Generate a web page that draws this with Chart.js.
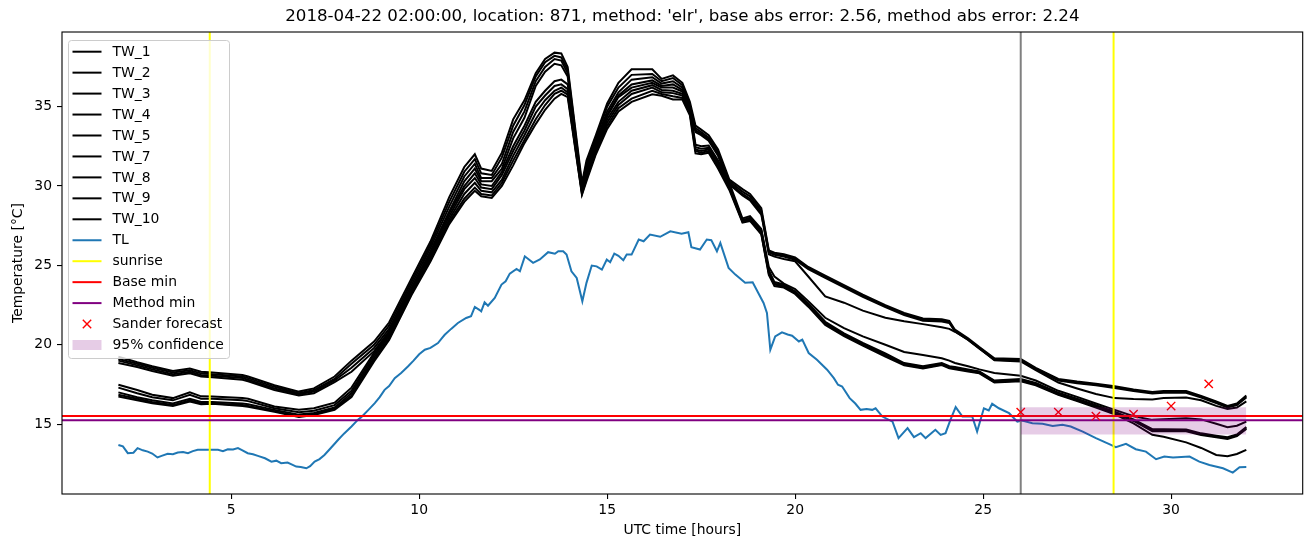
<!DOCTYPE html>
<html>
<head>
<meta charset="utf-8">
<script src="https://cdn.jsdelivr.net/npm/chart.js@4/dist/chart.umd.min.js"></script>
<style>
  body { margin: 0; background: #fff; }
  #wrap { width: 1310px; height: 547px; }
</style>
</head>
<body>
<div id="wrap"><canvas id="tempChart" width="1310" height="547"></canvas></div>
<script>
// Water temperature sensors (TW), air temperature (TL) and forecast markers
const hours = [2, 2.5, 2.9, 3.45, 3.9, 4.2, 4.5, 5.3, 5.45, 6.15, 6.8, 7.2, 7.75, 8.2, 8.8, 9.2, 9.8, 10.3, 10.8, 11.2,
  11.48, 11.65, 11.93, 12.2, 12.5, 12.8, 13.1, 13.35, 13.6, 13.78, 13.95, 14.33, 14.45, 14.7, 15.0, 15.3, 15.65, 16.2, 16.45, 16.75,
  17.0, 17.2, 17.35, 17.5, 17.7, 17.95, 18.25, 18.6, 18.8, 19.1, 19.3, 19.45, 19.7, 20.0, 20.35, 20.8, 21.3, 21.8, 22.4, 22.9,
  23.4, 23.9, 24.1, 24.25, 24.6, 24.9, 25.3, 26.0, 26.4, 27.0, 27.5, 28.0, 28.5, 29.0, 29.5, 29.8, 30.4, 30.8, 31.2, 31.5,
  31.75, 32.0];

const tw1 = [19.25, 18.9, 18.65, 18.35, 18.5, 18.3, 18.25, 18.1, 18.0, 17.45, 17.05, 17.25, 18.0, 19.0,
  20.2, 21.4, 24.2, 26.5, 29.3, 31.2,
  32.0, 31.1, 30.95, 32.1, 34.2, 35.4, 37.1, 38.0, 38.4, 38.35, 37.5,
  30.2, 31.6, 33.2, 35.2, 36.5, 37.35, 37.35, 36.75, 36.97, 36.5,
  35.3, 33.8, 33.55, 33.2, 32.3, 30.4, 29.8, 29.5, 28.6,
  25.95, 25.8, 25.7, 25.5, 24.9, 24.35, 23.75, 23.15,
  22.5, 22.0, 21.65, 21.6, 21.5, 20.95, 20.4, 19.85, 19.15,
  19.1, 18.55, 17.85, 17.68, 17.55, 17.38, 17.18,
  17.02, 17.08, 17.08, 16.78, 16.43, 16.15, 16.3, 16.8];
const tw2 = [19.1, 18.8, 18.55, 18.25, 18.4, 18.2, 18.15, 18.0, 17.9, 17.35, 16.95, 17.15, 17.85, 18.8,
  20.0, 21.2, 24.0, 26.3, 29.0, 30.9,
  31.7, 30.8, 30.7, 31.8, 33.8, 35.1, 36.9, 37.8, 38.2, 38.1, 37.3,
  30.0, 31.4, 33.0, 35.0, 36.2, 37.0, 37.05, 36.6, 36.8, 36.35,
  35.1, 33.65, 33.4, 33.05, 32.15, 30.3, 29.65, 29.35, 28.45,
  25.88, 25.72, 25.62, 25.42, 24.82, 24.28, 23.68, 23.08,
  22.43, 21.93, 21.58, 21.53, 21.43, 20.9, 20.35, 19.8, 19.1,
  19.05, 18.5, 17.8, 17.63, 17.5, 17.33, 17.13,
  16.97, 17.03, 17.03, 16.73, 16.38, 16.1, 16.25, 16.74];
const tw3 = [19.0, 18.7, 18.45, 18.15, 18.3, 18.1, 18.05, 17.9, 17.8, 17.25, 16.88, 17.05, 17.75, 18.55,
  19.8, 21.0, 23.8, 26.1, 28.7, 30.6,
  31.4, 30.5, 30.5, 31.4, 33.4, 34.7, 36.6, 37.5, 38.0, 37.9, 37.1,
  29.8, 31.2, 32.8, 34.7, 35.9, 36.7, 36.85, 36.45, 36.6, 36.2,
  35.0, 33.5, 33.3, 32.95, 32.0, 30.2, 29.5, 29.2, 28.3,
  25.7, 25.55, 25.4, 25.26, 24.3, 23.05, 22.65, 22.15,
  21.7, 21.48, 21.3, 21.1, 21.0, 20.82, 20.32, 19.78, 19.02,
  18.95, 18.4, 17.62, 17.25, 16.9, 16.64, 16.58,
  16.55, 16.64, 16.68, 16.5, 16.15, 15.95, 16.05, 16.43];
const tw4 = [18.85, 18.6, 18.35, 18.05, 18.2, 18.0, 17.95, 17.8, 17.7, 17.15, 16.8, 16.95, 17.65, 18.3,
  19.6, 20.85, 23.6, 25.9, 28.4, 30.3,
  31.1, 30.3, 30.3, 31.1, 33.0, 34.3, 36.3, 37.2, 37.7, 37.6, 36.9,
  29.7, 31.0, 32.6, 34.5, 35.7, 36.4, 36.65, 36.3, 36.4, 36.05,
  34.9, 33.4, 33.2, 32.85, 31.9, 30.1, 29.4, 29.1, 28.2,
  25.82, 25.66, 25.56, 25.36, 24.76, 24.22, 23.62, 23.02,
  22.37, 21.87, 21.52, 21.47, 21.37, 20.85, 20.3, 19.75, 19.06,
  19.0, 18.45, 17.75, 17.58, 17.45, 17.28, 17.08,
  16.93, 16.98, 16.98, 16.68, 16.33, 16.05, 16.2, 16.68];
const tw5 = [17.48, 17.15, 16.85, 16.64, 17.0, 16.75, 16.74, 16.64, 16.6, 16.11, 15.9, 16.0, 16.35, 17.3,
  19.5, 20.75, 23.55, 25.8, 28.3, 30.0,
  30.8, 30.1, 30.0, 30.9, 32.5, 33.8, 35.3, 36.0, 36.6, 36.7, 36.4,
  29.9, 30.9, 32.6, 34.4, 35.6, 36.2, 36.5, 36.2, 36.2, 35.95,
  34.9, 32.6, 32.5, 32.55, 31.6, 30.2, 27.95, 28.1, 27.3,
  24.9, 24.3, 23.85, 23.5, 22.75, 21.7, 21.05, 20.53,
  20.0, 19.55, 19.35, 19.15, 19.0, 18.85, 18.65, 18.45, 18.22,
  18.05, 17.75, 17.1, 16.72, 16.3, 15.9, 15.5,
  15.27, 15.31, 15.37, 15.3, 15.02, 14.8, 14.9, 15.16];
const tw7 = [17.3, 16.95, 16.7, 16.5, 16.85, 16.6, 16.6, 16.5, 16.45, 16.0, 15.75, 15.85, 16.2, 17.1,
  19.35, 20.65, 23.45, 25.7, 28.1, 29.8,
  30.5, 29.9, 29.8, 30.7, 32.2, 33.5, 35.0, 35.7, 36.3, 36.4, 36.1,
  29.7, 30.8, 32.4, 34.2, 35.3, 36.0, 36.35, 36.05, 36.0, 35.8,
  34.8, 32.45, 32.35, 32.4, 31.45, 30.05, 27.85, 28.0, 27.2,
  24.7, 23.95, 23.8, 23.35, 22.6, 21.45, 20.72, 20.12,
  19.45, 18.85, 18.65, 18.85, 18.65, 18.6, 18.45, 18.32, 17.75,
  17.85, 17.6, 16.98, 16.6, 16.2, 15.78, 15.3,
  14.68, 14.68, 14.66, 14.42, 14.27, 14.17, 14.35, 14.82];
const tw8 = [17.0, 16.7, 16.5, 16.3, 16.6, 16.4, 16.4, 16.3, 16.25, 15.9, 15.6, 15.7, 16.05, 16.95,
  19.2, 20.55, 23.35, 25.55, 27.9, 29.5,
  30.2, 29.7, 29.6, 30.4, 31.9, 33.2, 34.6, 35.4, 36.0, 36.2, 35.9,
  29.6, 30.6, 32.3, 34.0, 35.1, 35.8, 36.2, 35.9, 35.85, 35.7,
  34.7, 32.3, 32.2, 32.3, 31.3, 29.95, 27.8, 27.9, 27.1,
  24.6, 23.85, 23.72, 23.3, 22.52, 21.38, 20.65, 20.06,
  19.38, 18.8, 18.6, 18.8, 18.6, 18.55, 18.4, 18.28, 17.7,
  17.8, 17.55, 16.93, 16.55, 16.15, 15.73, 15.25,
  14.62, 14.62, 14.6, 14.37, 14.22, 14.12, 14.3, 14.75];
const tw9 = [16.85, 16.6, 16.4, 16.2, 16.5, 16.3, 16.3, 16.2, 16.15, 15.82, 15.5, 15.62, 15.98, 16.8,
  19.05, 20.4, 23.25, 25.4, 27.75, 29.2,
  29.9, 29.5, 29.4, 30.2, 31.6, 32.9, 34.2, 35.1, 35.8, 36.0, 35.75,
  29.5, 30.45, 32.1, 33.8, 34.9, 35.5, 36.0, 35.8, 35.65, 35.55,
  34.6, 32.2, 32.1, 32.2, 31.2, 29.85, 27.75, 27.85, 27.0,
  24.5, 23.8, 23.66, 23.25, 22.46, 21.32, 20.6, 20.0,
  19.32, 18.75, 18.55, 18.76, 18.56, 18.5, 18.36, 18.24, 17.66,
  17.75, 17.5, 16.88, 16.5, 16.1, 15.68, 15.2,
  14.56, 14.57, 14.55, 14.32, 14.17, 14.07, 14.25, 14.7];
const tw10 = [16.74, 16.5, 16.32, 16.15, 16.43, 16.25, 16.28, 16.15, 16.1, 15.78, 15.45, 15.58, 15.9, 16.7,
  18.95, 20.3, 23.15, 25.25, 27.6, 29.0,
  29.7, 29.35, 29.25, 30.0, 31.3, 32.7, 33.9, 34.8, 35.5, 35.8, 35.6,
  29.45, 30.3, 32.0, 33.6, 34.7, 35.3, 35.78, 35.68, 35.45, 35.45,
  34.45, 32.05, 32.0, 32.1, 31.1, 29.75, 27.7, 27.8, 26.95,
  24.4, 23.7, 23.6, 23.2, 22.4, 21.25, 20.55, 19.95,
  19.26, 18.7, 18.5, 18.72, 18.52, 18.46, 18.32, 18.2, 17.62,
  17.7, 17.45, 16.85, 16.46, 16.05, 15.62, 15.05,
  14.33, 14.2, 13.85, 13.5, 13.06, 12.98, 13.12, 13.38];

const tlHours = [2.0, 2.12, 2.25, 2.4, 2.51, 2.65, 2.78, 2.9, 3.04, 3.15, 3.31, 3.45, 3.58, 3.72, 3.85, 3.98, 4.11, 4.38, 4.65, 4.78,
  4.91, 5.05, 5.18, 5.3, 5.44, 5.58, 5.71, 5.9, 6.07, 6.2, 6.33, 6.5, 6.62, 6.73, 6.85, 7.0, 7.1, 7.22, 7.35, 7.48,
  7.65, 7.84, 8.0, 8.2, 8.38, 8.46, 8.65, 8.82, 8.95, 9.08, 9.2, 9.35, 9.52, 9.7, 9.85, 10.0, 10.15, 10.3, 10.5, 10.6,
  10.68, 10.85, 11.03, 11.25, 11.38, 11.48, 11.6, 11.65, 11.74, 11.83, 12.01, 12.19, 12.3, 12.41, 12.59, 12.68, 12.81, 13.03, 13.21, 13.43,
  13.61, 13.7, 13.83, 13.92, 14.05, 14.19, 14.34, 14.45, 14.59, 14.72, 14.86, 14.99, 15.08, 15.19, 15.3, 15.43, 15.52, 15.65, 15.84, 15.97,
  16.14, 16.41, 16.68, 16.98, 17.16, 17.24, 17.47, 17.65, 17.77, 17.92, 18.01, 18.23, 18.41, 18.67, 18.87, 19.16, 19.25, 19.34, 19.47, 19.65,
  19.8, 19.92, 20.1, 20.19, 20.36, 20.58, 20.85, 21.03, 21.14, 21.25, 21.45, 21.6, 21.74, 21.9, 22.05, 22.14, 22.32, 22.59, 22.75, 22.99,
  23.16, 23.34, 23.47, 23.73, 23.87, 24.0, 24.13, 24.27, 24.45, 24.71, 24.84, 25.02, 25.15, 25.24, 25.42, 25.69, 25.91, 26.04, 26.31, 26.58,
  26.85, 27.11, 27.33, 27.65, 28.0, 28.4, 28.53, 28.8, 29.06, 29.33, 29.6, 29.82, 30.05, 30.49, 30.75, 31.02, 31.38, 31.64, 31.82, 32.0];
const tlTemps = [13.69, 13.6, 13.17, 13.2, 13.49, 13.35, 13.27, 13.15, 12.9, 13.0, 13.13, 13.1, 13.21, 13.25, 13.17, 13.3, 13.38, 13.38, 13.38, 13.3,
  13.42, 13.4, 13.49, 13.35, 13.17, 13.1, 13.0, 12.85, 12.64, 12.7, 12.54, 12.58, 12.45, 12.33, 12.3, 12.22, 12.35, 12.64, 12.8, 13.06,
  13.5, 14.0, 14.4, 14.85, 15.3, 15.44, 15.9, 16.32, 16.7, 17.16, 17.4, 17.9, 18.22, 18.63, 19.0, 19.4, 19.69, 19.8, 20.11, 20.4,
  20.63, 21.0, 21.37, 21.69, 21.8, 22.38, 22.2, 22.1, 22.67, 22.46, 22.95, 23.79, 24.0, 24.48, 24.78, 24.63, 25.57, 25.16, 25.37, 25.83,
  25.73, 25.89, 25.89, 25.68, 24.63, 24.21, 22.74, 23.9, 24.99, 24.94, 24.73, 25.37, 25.2, 25.74, 25.6, 25.32, 25.68, 25.68, 26.63, 26.52,
  26.94, 26.8, 27.15, 26.99, 27.09, 26.14, 26.0, 26.63, 26.59, 25.89, 26.42, 24.84, 24.42, 23.9, 23.93, 22.63, 22.0, 19.69, 20.53, 20.78,
  20.65, 20.57, 20.21, 20.32, 19.48, 19.06, 18.43, 17.9, 17.48, 17.37, 16.64, 16.3, 15.9, 15.95, 15.9, 16.0, 15.48, 15.16, 14.12, 14.75,
  14.18, 14.43, 14.12, 14.64, 14.32, 14.43, 15.27, 16.07, 15.48, 15.48, 14.53, 16.0, 15.86, 16.28, 16.0, 15.69, 15.16, 15.23, 15.06, 15.02,
  14.89, 14.96, 14.85, 14.53, 14.12, 13.69, 13.55, 13.76, 13.42, 13.27, 12.79, 12.96, 12.9, 12.96, 12.64, 12.43, 12.22, 11.95, 12.29, 12.3];

const sanderHours = [26, 27, 28, 29, 30, 31];
const sanderTemps = [15.76, 15.76, 15.5, 15.63, 16.14, 17.54];

const sunriseHours = [4.43, 28.47];
const forecastStart = 26.0;
const baseMin = 15.52;
const methodMin = 15.25;
const confHours = [26, 32];
const confLow = 14.34;
const confHigh = 16.07;

const xTicks = [5, 10, 15, 20, 25, 30];
const yTicks = [15, 20, 25, 30, 35];
const xMin = 0.5, xMax = 33.5, yMin = 10.6, yMax = 39.7;

const FONT = 'DejaVu Sans';
const toPts = (xs, ys) => xs.map((x, i) => ({ x: x, y: ys[i] }));

const twSeries = [['TW_1', tw1], ['TW_2', tw2], ['TW_3', tw3], ['TW_4', tw4], ['TW_5', tw5],
  ['TW_7', tw7], ['TW_8', tw8], ['TW_9', tw9], ['TW_10', tw10]];

const datasets = [];
twSeries.forEach(([label, vals]) => {
  datasets.push({ label: label, data: toPts(hours, vals), borderColor: '#000000', borderWidth: 2 });
});
datasets.push({ label: 'TL', data: toPts(tlHours, tlTemps), borderColor: '#1f77b4', borderWidth: 2 });
datasets.push({
  label: 'sunrise',
  data: [{ x: sunriseHours[0], y: yMin }, { x: sunriseHours[0], y: yMax },
         { x: (sunriseHours[0] + sunriseHours[1]) / 2, y: null },
         { x: sunriseHours[1], y: yMin }, { x: sunriseHours[1], y: yMax }],
  borderColor: '#ffff00', borderWidth: 2
});
datasets.push({ label: '_forecast', data: [{ x: forecastStart, y: yMin }, { x: forecastStart, y: yMax }], borderColor: '#808080', borderWidth: 2 });
datasets.push({ label: 'Base min', data: [{ x: xMin, y: baseMin }, { x: xMax, y: baseMin }], borderColor: '#ff0000', borderWidth: 2 });
datasets.push({ label: 'Method min', data: [{ x: xMin, y: methodMin }, { x: xMax, y: methodMin }], borderColor: '#800080', borderWidth: 2 });
datasets.push({
  label: 'Sander forecast', data: toPts(sanderHours, sanderTemps), showLine: false,
  pointStyle: 'crossRot', pointRadius: 5.9, borderColor: '#ff0000', borderWidth: 1.4
});
datasets.push({ label: '_conf_low', data: confHours.map(h => ({ x: h, y: confLow })), borderColor: 'rgba(0,0,0,0)', borderWidth: 0 });
datasets.push({
  label: '95% confidence', data: confHours.map(h => ({ x: h, y: confHigh })), borderColor: 'rgba(0,0,0,0)', borderWidth: 0,
  fill: '-1', backgroundColor: 'rgba(128,0,128,0.2)'
});
// later datasets drawn on top, like matplotlib
datasets.forEach((ds, i) => { ds.order = datasets.length - i; });

// frame + matplotlib style legend
const framePlugin = {
  id: 'frameAndLegend',
  afterDatasetsDraw(chart) {
    const { ctx, chartArea: a } = chart;
    ctx.save();
    ctx.strokeStyle = '#000';
    ctx.lineWidth = 1.1;
    ctx.strokeRect(a.left, a.top, a.right - a.left, a.bottom - a.top);
    ctx.restore();
  },
  afterDraw(chart) {
    const ctx = chart.ctx;
    const items = chart.data.datasets.filter(ds => !ds.label.startsWith('_'));
    const bx = 68.5, by = 40.5, bw = 161, bh = 318, r = 3;
    ctx.save();
    ctx.beginPath();
    ctx.moveTo(bx + r, by);
    ctx.arcTo(bx + bw, by, bx + bw, by + bh, r);
    ctx.arcTo(bx + bw, by + bh, bx, by + bh, r);
    ctx.arcTo(bx, by + bh, bx, by, r);
    ctx.arcTo(bx, by, bx + bw, by, r);
    ctx.closePath();
    ctx.fillStyle = 'rgba(255,255,255,0.8)';
    ctx.fill();
    ctx.strokeStyle = '#cccccc';
    ctx.lineWidth = 1;
    ctx.stroke();

    ctx.font = '13.9px "' + FONT + '"';
    ctx.textBaseline = 'middle';
    ctx.textAlign = 'left';
    items.forEach((ds, i) => {
      const y = 51.7 + i * 20.95;
      if (ds.fill) {
        ctx.fillStyle = ds.backgroundColor;
        ctx.fillRect(72.5, y - 5, 29, 10);
      } else if (ds.showLine === false) {
        const d = 4.2;
        ctx.strokeStyle = ds.borderColor;
        ctx.lineWidth = ds.borderWidth;
        ctx.beginPath();
        ctx.moveTo(87 - d, y - d); ctx.lineTo(87 + d, y + d);
        ctx.moveTo(87 - d, y + d); ctx.lineTo(87 + d, y - d);
        ctx.stroke();
      } else {
        ctx.strokeStyle = ds.borderColor;
        ctx.lineWidth = ds.borderWidth;
        ctx.beginPath();
        ctx.moveTo(72.5, y); ctx.lineTo(101.5, y);
        ctx.stroke();
      }
      ctx.fillStyle = '#000';
      ctx.fillText(ds.label, 112.5, y + 0.5);
    });
    ctx.restore();
  }
};

const tickFont = { family: FONT, size: 13.9 };
const axisGrid = { display: true, drawOnChartArea: false, drawTicks: true, tickLength: 5, color: '#000', lineWidth: 1.1 };

new Chart(document.getElementById('tempChart').getContext('2d'), {
  type: 'line',
  data: { datasets: datasets },
  options: {
    responsive: false,
    animation: false,
    parsing: true,
    elements: { point: { radius: 0 }, line: { tension: 0, fill: false } },
    layout: { padding: { top: 0, right: 7, bottom: 0, left: 0 } },
    plugins: {
      legend: { display: false },
      tooltip: { enabled: false },
      title: {
        display: true,
        fullSize: false,
        text: "2018-04-22 02:00:00, location: 871, method: 'elr', base abs error: 2.56, method abs error: 2.24",
        color: '#000',
        font: { family: FONT, size: 16.67, weight: 'normal' },
        padding: { top: 7, bottom: 5 }
      }
    },
    scales: {
      x: {
        type: 'linear', min: xMin, max: xMax,
        afterBuildTicks: s => { s.ticks = xTicks.map(v => ({ value: v })); },
        afterFit: s => { s.height = 53; },
        grid: axisGrid,
        border: { display: false },
        ticks: { color: '#000', font: tickFont, padding: 3, maxRotation: 0 },
        title: { display: true, text: 'UTC time [hours]', color: '#000', font: tickFont, padding: { top: 0, bottom: 8.7 } }
      },
      y: {
        type: 'linear', min: yMin, max: yMax,
        afterBuildTicks: s => { s.ticks = yTicks.map(v => ({ value: v })); },
        afterFit: s => { s.width = 62; },
        grid: axisGrid,
        border: { display: false },
        ticks: { color: '#000', font: tickFont, padding: 5 },
        title: { display: true, text: 'Temperature [°C]', color: '#000', font: tickFont, padding: { top: 9.7, bottom: 0 } }
      }
    }
  },
  plugins: [framePlugin]
});
</script>
</body>
</html>
